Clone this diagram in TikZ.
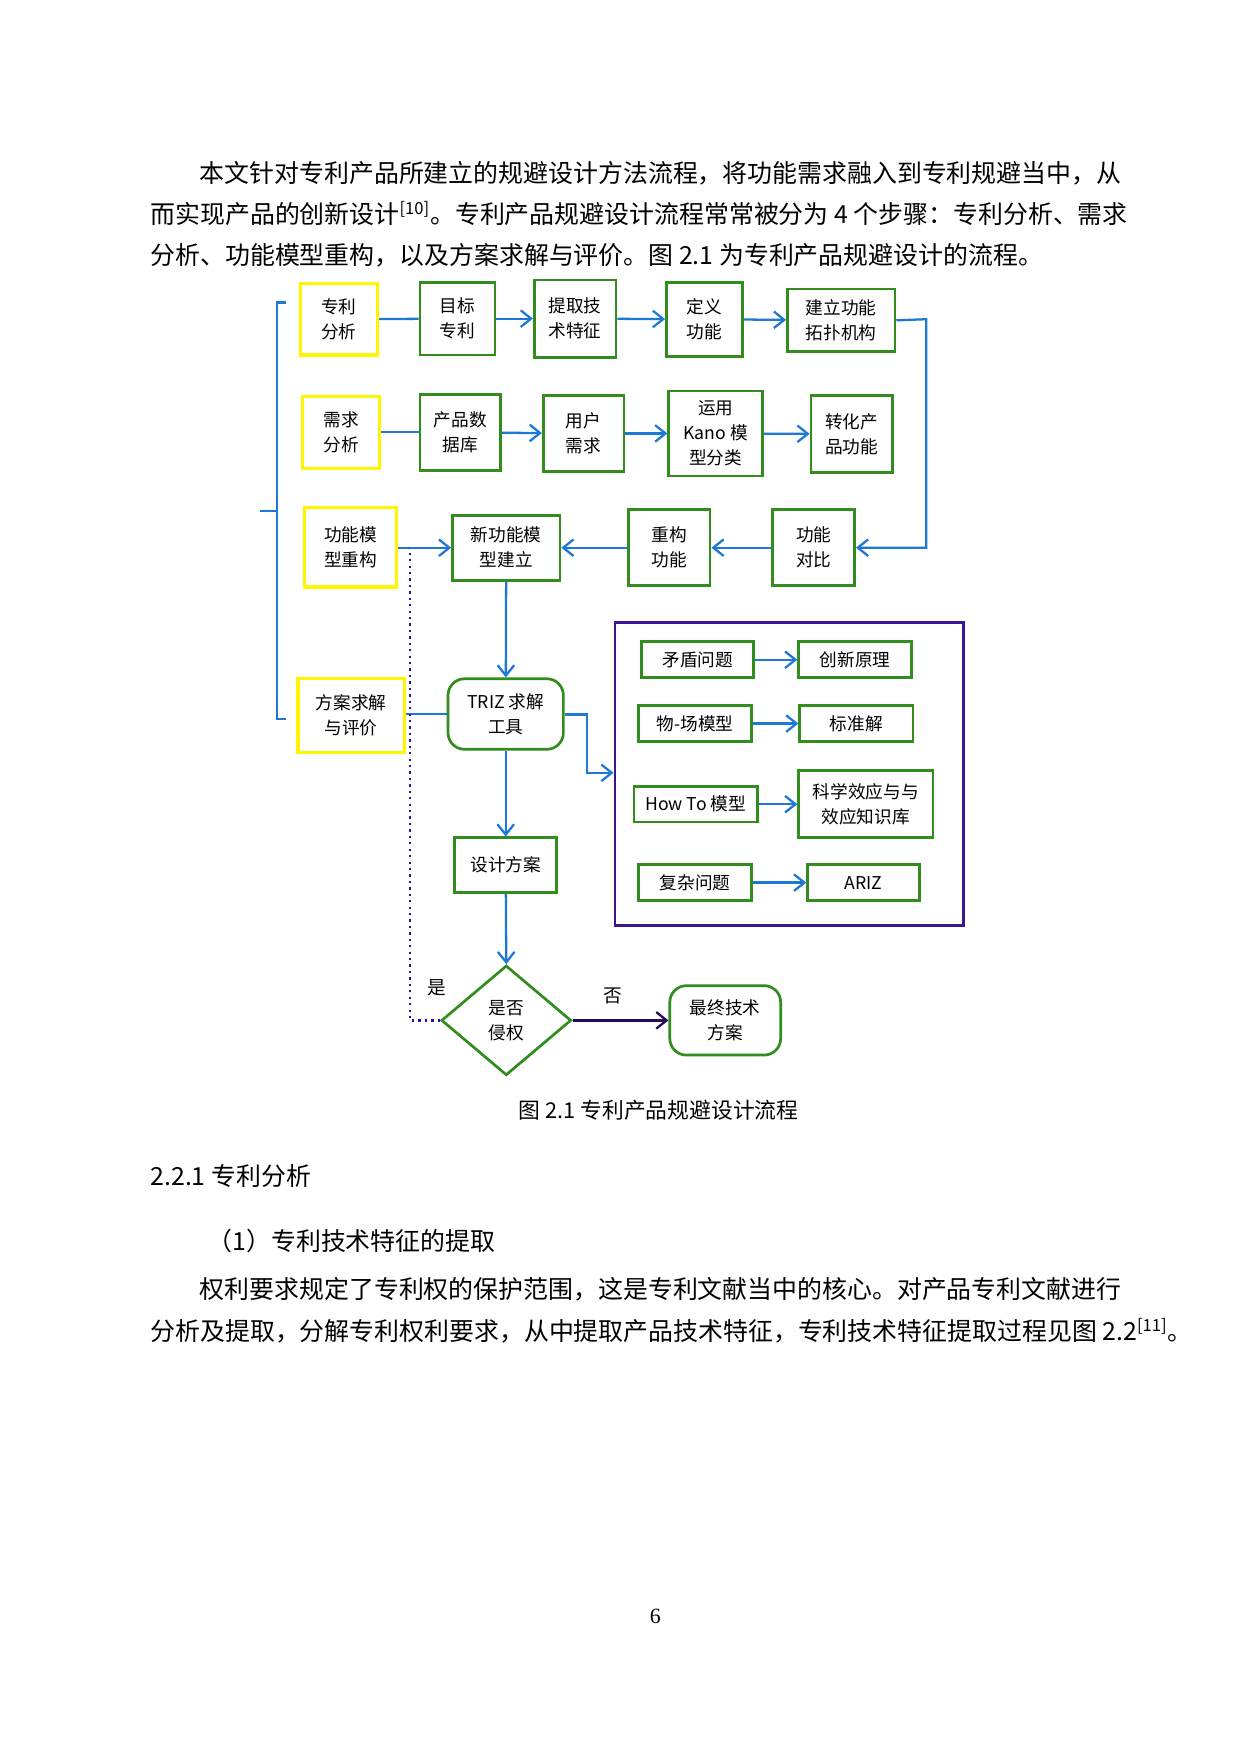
\documentclass[tikz,border=0pt]{standalone}
\usepackage{fontspec}
\setmainfont{Liberation Serif}
\newfontfamily\cjk{Noto Sans CJK SC}
\usetikzlibrary{fit,arrows.meta,shapes.geometric}
\definecolor{gr}{RGB}{50,140,30}
\definecolor{yl}{RGB}{255,245,0}
\definecolor{bl}{RGB}{30,120,215}
\definecolor{pu}{RGB}{60,20,150}
\tikzset{
 gbox/.style={draw=gr,line width=1.3pt,inner sep=0pt},
 ybox/.style={gbox,draw=yl,line width=1.6pt},
 rbox/.style={gbox,rounded corners=8pt},
 t/.style={label={[align=center,font=\cjk\fontsize{8.5}{12}\selectfont,inner sep=0pt]center:{#1}}},
 ar/.style={draw=bl,line width=1.1pt,-{Straight Barb[length=5pt,width=8pt]}},
 ln/.style={draw=bl,line width=1.1pt},
 para/.style={anchor=west,inner sep=0pt,font=\cjk\fontsize{12}{14}\selectfont},
}
\begin{document}
\begin{tikzpicture}[x=0.01897cm,y=-0.01897cm]
\useasboundingbox[fill=white] (0,0) rectangle (1107,1566);
% text
\node[para] (p1) at (178,155) {本文针对专利产品所建立的规避设计方法流程，将功能需求融入到专利规避当中，从};
\node[para] (p2) at (134,191) {而实现产品的创新设计\textsuperscript{[10]}。专利产品规避设计流程常常被分为 4 个步骤：专利分析、需求};
\node[para] (p3) at (134,228) {分析、功能模型重构，以及方案求解与评价。图 2.1 为专利产品规避设计的流程。};
% bracket
\draw[ln] (255,270) -- (247,270) -- (247,642) -- (255,642);
\draw[ln] (232,456) -- (247,456);
% row1
\node[ybox,fit={(268,253)(337,317)},t={专利\\分析}] (a1) {};
\node[gbox,fit={(375,252)(442,317)},t={目标\\专利}] (a2) {};
\node[gbox,fit={(477,250)(550,319)},t={提取技\\术特征}] (a3) {};
\node[gbox,fit={(595,252)(663,318)},t={定义\\功能}] (a4) {};
\node[gbox,fit={(703,258)(799,314)},t={建立功能\\拓扑机构}] (a5) {};
\draw[ln] (a1) -- (a2);
\draw[ar] (a2) -- (a3);
\draw[ar] (a3) -- (a4);
\draw[ar] (a4) -- (a5);
% row2
\node[ybox,fit={(270,354)(339,418)},t={需求\\分析}] (b1) {};
\node[gbox,fit={(375,352)(447,420)},t={产品数\\据库}] (b2) {};
\node[gbox,fit={(485,353)(557,421)},t={用户\\需求}] (b3) {};
\node[gbox,fit={(597,349)(681,425)},t={运用\\Kano 模\\型分类}] (b4) {};
\node[gbox,fit={(724,353)(797,422)},t={转化产\\品功能}] (b5) {};
\draw[ln] (b1) -- (b2);
\draw[ar] (b2) -- (b3);
\draw[ar] (b3) -- (b4);
\draw[ar] (b4) -- (b5);
% row3
\node[ybox,fit={(272,453)(354,524)},t={功能模\\型重构}] (c1) {};
\node[gbox,fit={(404,460)(500,518)},t={新功能模\\型建立}] (c2) {};
\node[gbox,fit={(561,455)(634,523)},t={重构\\功能}] (c3) {};
\node[gbox,fit={(690,455)(763,523)},t={功能\\对比}] (c4) {};
\draw[ar] (a5.east) -- (827,285) -- (827,489) -- (c4.east);
\draw[ar] (c4) -- (c3);
\draw[ar] (c3) -- (c2);
\coordinate (dj) at (366,489);
\draw[ln] (c1.east |- dj) -- (dj);
% row4
\node[ybox,fit={(266,606)(361,672)},t={方案求解\\与评价}] (d1) {};
\node[rbox,fit={(400,606)(503,669)},t={TRIZ 求解\\工具}] (tr) {};
\draw[ln] (d1.east |- tr) -- (tr.west);
\draw[ar] (c2) -- (tr);
% purple
\node[draw=pu,line width=1.3pt,fit={(549,556)(860,826)},inner sep=0pt] (pb) {};
\coordinate (tj) at (524,638);
\draw[ar] (tr.east |- tj) -- (tj) -- (524,690) -- (pb.west |- 0,690);
\node[gbox,fit={(573,573)(673,605)},t={矛盾问题}] (e1) {};
\node[gbox,fit={(713,573)(814,605)},t={创新原理}] (f1) {};
\node[gbox,fit={(570,630)(671,662)},t={物-场模型}] (e2) {};
\node[gbox,fit={(714,630)(815,662)},t={标准解}] (f2) {};
\node[gbox,fit={(566,702)(676,734)},t={How To 模型}] (e3) {};
\node[gbox,fit={(713,688)(833,748)},t={科学效应与与\\效应知识库}] (f3) {};
\node[gbox,fit={(570,772)(671,804)},t={复杂问题}] (e4) {};
\node[gbox,fit={(721,772)(821,804)},t={ARIZ}] (f4) {};
\draw[ar] (e1) -- (f1);
\draw[ar] (e2) -- (f2);
\draw[ar] (e3) -- (e3.east -| f3.west);
\draw[ar] (e4) -- (f4);
% lower
\node[gbox,fit={(406,748)(497,797)},t={设计方案}] (ds) {};
\draw[ar] (tr) -- (ds);
\node[draw=gr,line width=1.3pt,diamond,inner sep=0pt,
  minimum width=2.2cm,minimum height=1.86cm,t={是否\\侵权}] (dm) at (452,911) {};
\draw[ar] (ds) -- (dm.north);
\node[rbox,fit={(598,880)(697,942)},t={最终技术\\方案}] (fin) {};
\draw[draw=pu!60!black,line width=1.1pt,-{Straight Barb[length=5pt,width=8pt]}] (dm.east) -- (fin);
\draw[draw=pu!70!blue,line width=1.1pt,dotted] (dm.west) -- (366,911) -- (dj);
\draw[ar] (dj) -- (c2.west);
\node[font=\cjk\fontsize{9}{11}\selectfont] (yes) at (390,882) {是};
\node[font=\cjk\fontsize{9}{11}\selectfont] (no) at (547,889) {否};
% caption etc
\node[font=\cjk\fontsize{10.5}{12}\selectfont] (cap) at (588,991) {图 2.1 专利产品规避设计流程};
\node[para] (h1) at (134,1050) {2.2.1 专利分析};
\node[para] (h2) at (185,1108) {（1）专利技术特征的提取};
\node[para] (p4) at (178,1151) {权利要求规定了专利权的保护范围，这是专利文献当中的核心。对产品专利文献进行};
\node[para] (p5) at (134,1188) {分析及提取，分解专利权利要求，从中提取产品技术特征，专利技术特征提取过程见图 2.2\textsuperscript{[11]}。};
\node[font=\fontsize{10.5}{12}\selectfont] (pg) at (585,1443) {6};
\end{tikzpicture}
\end{document}
